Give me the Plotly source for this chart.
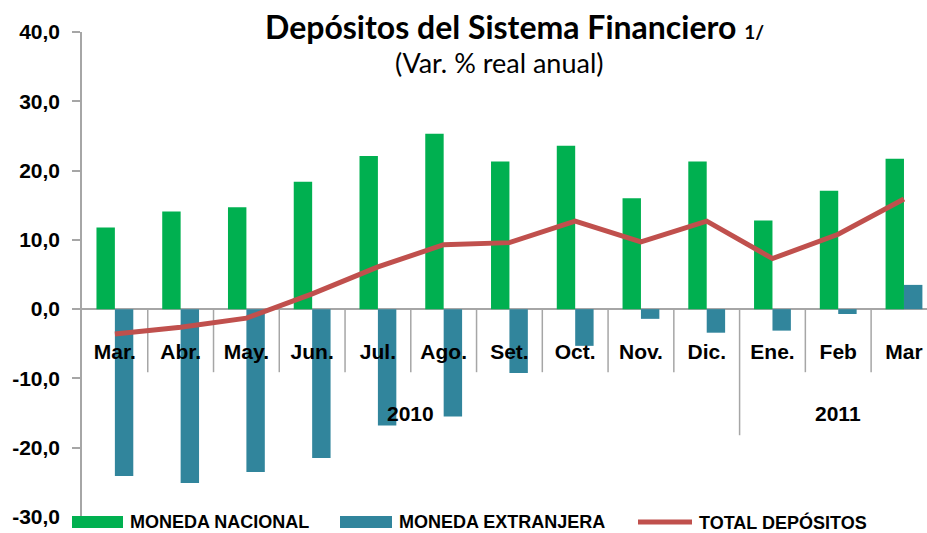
import plotly.graph_objects as go

# ---------------- data ----------------
months = ["Mar.", "Abr.", "May.", "Jun.", "Jul.", "Ago.", "Set.", "Oct.", "Nov.", "Dic.", "Ene.", "Feb", "Mar"]
moneda_nacional = [11.8, 14.1, 14.7, 18.4, 22.1, 25.3, 21.3, 23.6, 16.0, 21.3, 12.8, 17.1, 21.7]
moneda_extranjera = [-24.1, -25.1, -23.5, -21.5, -16.8, -15.5, -9.2, -5.3, -1.4, -3.4, -3.1, -0.7, 3.5]
total_depositos = [-3.6, -2.6, -1.3, 2.2, 6.1, 9.3, 9.6, 12.7, 9.7, 12.7, 7.3, 10.8, 15.9]
series_names = ["MONEDA NACIONAL", "MONEDA EXTRANJERA", "TOTAL DEPÓSITOS"]
years = ["2010", "2011"]
year_positions = [4.5, 11.0]
y_tickvals = [-30, -20, -10, 0, 10, 20, 30, 40]
y_ticktext = ["-30,0", "-20,0", "-10,0", "0,0", "10,0", "20,0", "30,0", "40,0"]

# ---------------- styles ----------------
GREEN = "#00B050"
BLUE = "#31859C"
RED = "#C0504D"
GRAY = "#A6A6A6"
AX_FONT = "Liberation Sans, Arial, sans-serif"
TITLE_FONT = "Lato, Carlito, Calibri, sans-serif"

W, H = 927, 533
# plot area in window pixels: x 82..927, y 32..517
L, R, T, B = 82, 0, 32, 533 - 517


def px(x):
    """window pixel x -> paper fraction"""
    return (x - L) / (W - L - R)


def py(y):
    """window pixel y -> paper fraction"""
    return (H - B - y) / (H - T - B)


fig = go.Figure()
fig.add_trace(go.Bar(x=months, y=moneda_nacional, name=series_names[0], marker_color=GREEN,
                     marker_line_width=0))
fig.add_trace(go.Bar(x=months, y=moneda_extranjera, name=series_names[1], marker_color=BLUE,
                     marker_line_width=0))
fig.add_trace(go.Scatter(x=months, y=total_depositos, name=series_names[2], mode="lines",
                         line=dict(color=RED, width=5)))

shapes = []
# category separators below the zero line
for i in range(len(months) - 1):
    long_sep = (months[i] == "Dic.")
    shapes.append(dict(type="line", xref="x", yref="y", x0=i + 0.5, x1=i + 0.5,
                       y0=0, y1=-18.2 if long_sep else -9.1,
                       line=dict(color=GRAY, width=1.5), layer="below"))

annotations = []
for yr, pos in zip(years, year_positions):
    annotations.append(dict(text=yr, xref="x", yref="y", x=pos, y=-15.1, showarrow=False,
                            font=dict(family=AX_FONT, size=21, color="black", weight="bold"),
                            xanchor="center", yanchor="middle"))

# title
annotations.append(dict(text="Depósitos del Sistema Financiero <span style='font-size:19px'>1/</span>",
                        xref="paper", yref="paper", x=px(514), y=py(26), showarrow=False,
                        xanchor="center", yanchor="middle",
                        font=dict(family=TITLE_FONT, size=32, color="black", weight="bold")))
annotations.append(dict(text="(Var. % real anual)", xref="paper", yref="paper",
                        x=px(499), y=py(62), showarrow=False, xanchor="center", yanchor="middle",
                        font=dict(family=TITLE_FONT, size=27, color="black")))

# custom legend
legend_items = [
    (series_names[0], GREEN, "rect", 72, 123, 128),
    (series_names[1], BLUE, "rect", 340, 392, 397),
    (series_names[2], RED, "line", 638, 692, 697),
]
ly = 522
for name, col, kind, x0, x1, xt in legend_items:
    if kind == "rect":
        shapes.append(dict(type="rect", xref="paper", yref="paper", x0=px(x0), x1=px(x1),
                           y0=py(ly + 6), y1=py(ly - 6), fillcolor=col, line=dict(width=0)))
    else:
        shapes.append(dict(type="line", xref="paper", yref="paper", x0=px(x0), x1=px(x1),
                           y0=py(ly), y1=py(ly), line=dict(color=col, width=5)))
    annotations.append(dict(text=name, xref="paper", yref="paper", x=px(xt), y=py(ly),
                            xanchor="left", yanchor="middle", showarrow=False,
                            font=dict(family=AX_FONT, size=18, color="black", weight="bold")))

fig.update_layout(
    width=W, height=H,
    margin=dict(l=L, r=R, t=T, b=B, pad=0),
    paper_bgcolor="white", plot_bgcolor="white",
    barmode="group", bargap=0.44, bargroupgap=0,
    showlegend=False,
    separators=",.",
    shapes=shapes,
    annotations=annotations,
    xaxis=dict(type="category", categoryorder="array", categoryarray=months,
               range=[-0.5, 12.35], anchor="free", position=30 / 70,
               showline=False, ticks="", showgrid=False, zeroline=False,
               tickfont=dict(family=AX_FONT, size=21, color="black", weight="bold"),
               ticklabelstandoff=28),
    yaxis=dict(range=[-30, 40], tickvals=y_tickvals, ticktext=y_ticktext,
               showline=True, linecolor=GRAY, linewidth=1.5,
               ticks="outside", ticklen=8, tickcolor=GRAY, tickwidth=1.5,
               showgrid=False, zeroline=True, zerolinecolor=GRAY, zerolinewidth=1.5,
               tickfont=dict(family=AX_FONT, size=21, color="black", weight="bold"),
               ticklabelstandoff=8),
)

# remove the default page margin so the 927x533 figure fills the window exactly
page_css = ("document.body.style.margin='0';"
            "document.body.style.overflow='hidden';"
            "document.documentElement.style.overflow='hidden';")
fig.write_html("out.html", post_script=page_css, config={"displayModeBar": False})
